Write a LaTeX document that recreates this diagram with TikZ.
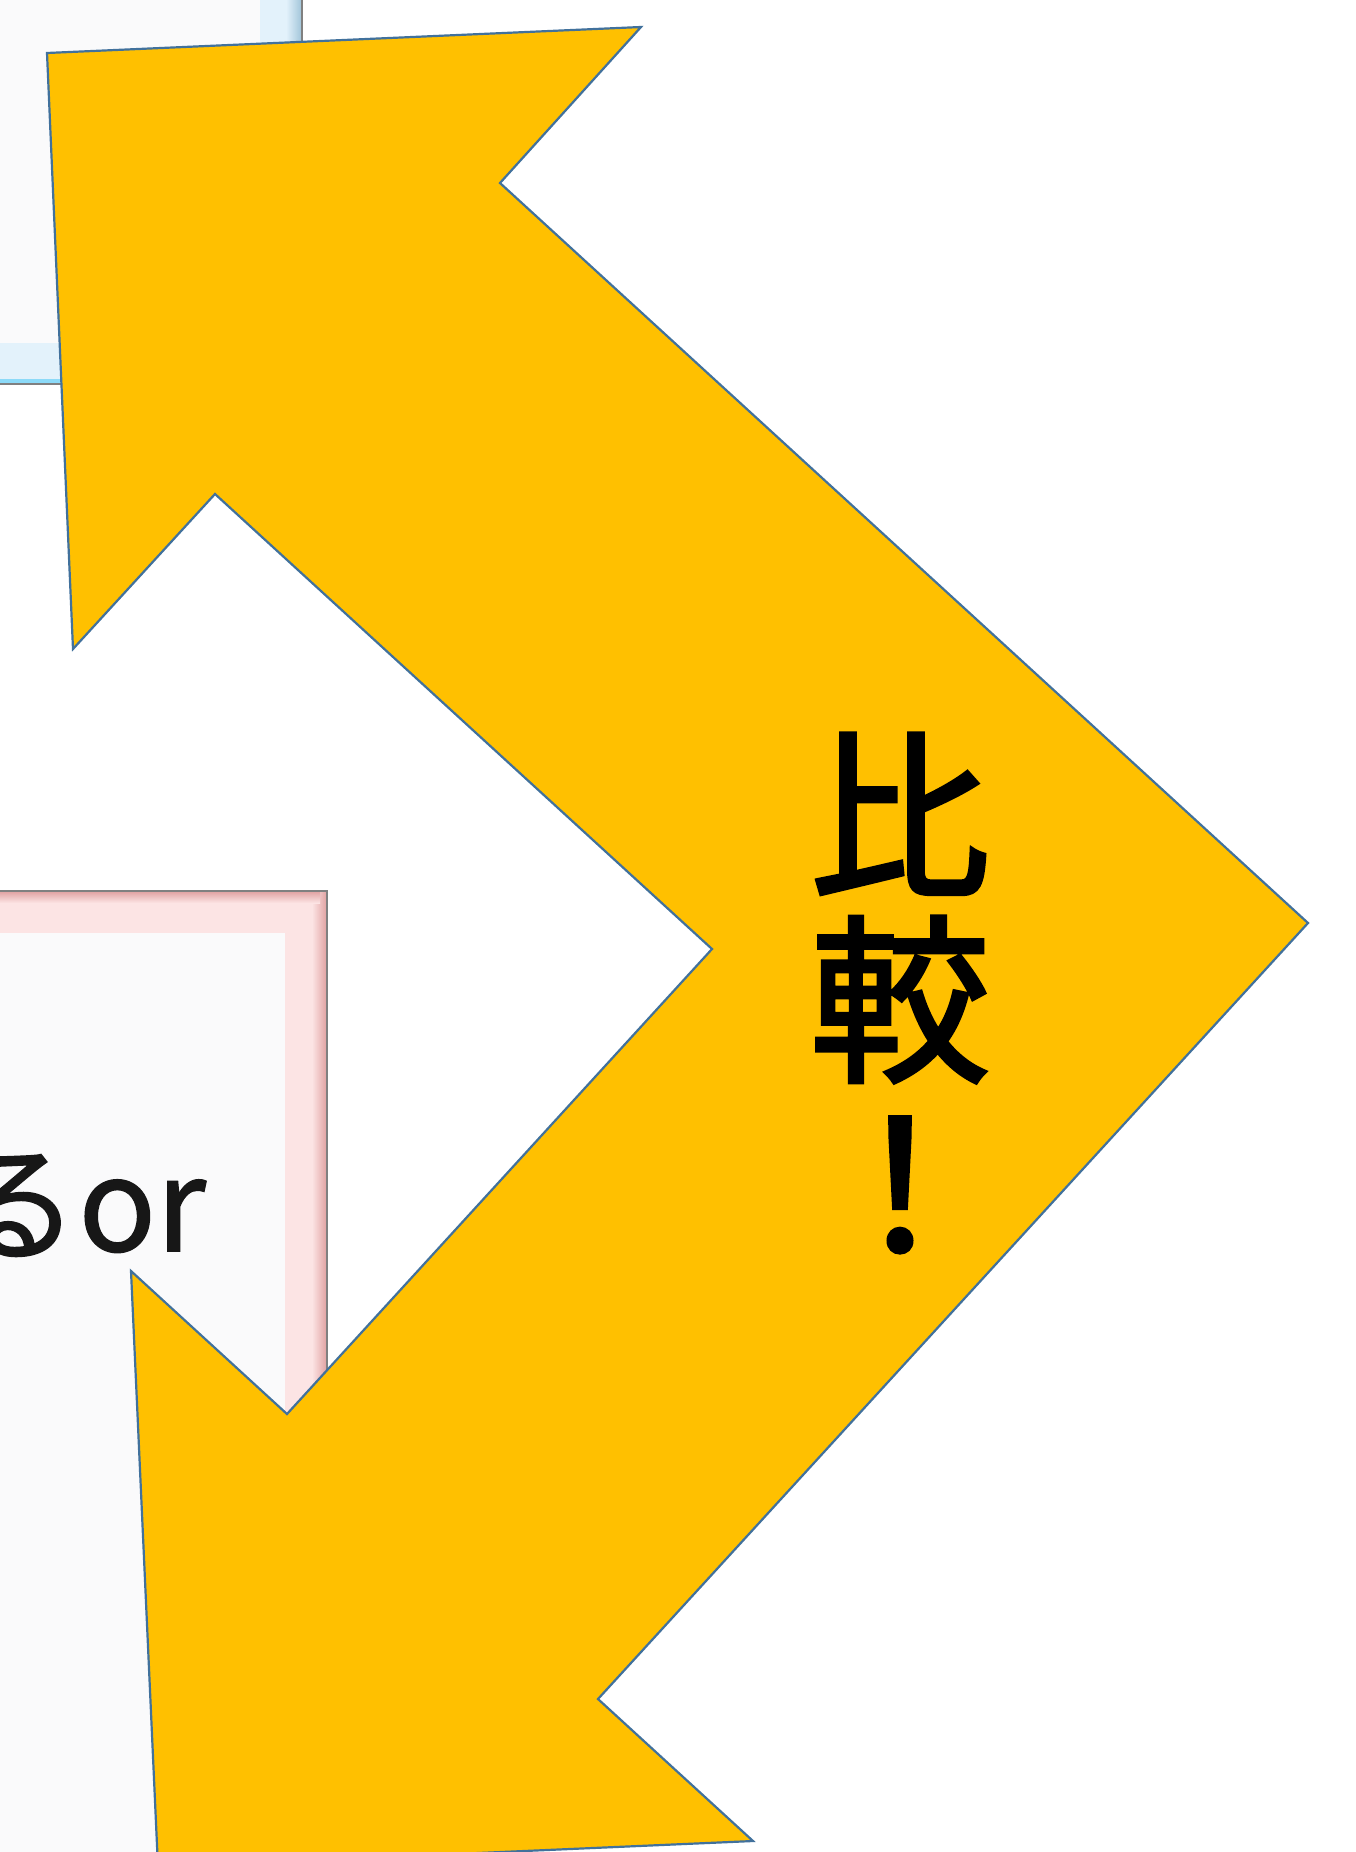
\documentclass[tikz,border=0pt]{standalone}
\usepackage{fontspec}
\newfontfamily\cjkfont[FakeBold=1.2]{Noto Sans CJK JP}
\newfontfamily\cjkheavy[FakeBold=2.2]{Noto Sans CJK JP}
\definecolor{arrowfill}{HTML}{FFC000}
\definecolor{arrowline}{HTML}{41719C}
\definecolor{bluefrm}{HTML}{E3F2FB}
\definecolor{blueedge}{HTML}{9FC3D8}
\definecolor{pinkfrm}{HTML}{FCE4E4}
\definecolor{pinkedge}{HTML}{E0A0A0}
\definecolor{boxin}{HTML}{FAFAFB}
\definecolor{txt}{HTML}{171717}
\tikzset{
  bigarrow/.style={fill=arrowfill, draw=arrowline, line width=2.2pt, line join=miter},
  frameline/.style={draw=black!50, line width=1.5pt},
}
\begin{document}
\begin{tikzpicture}[x=1pt,y=-1pt]
\useasboundingbox (0,0) rectangle (1355,1852);
\fill[white] (0,0) rectangle (1355,1852);
% blue box (top left)
\fill[bluefrm] (-10,-10) rectangle (302,384);
\shade[left color=bluefrm, right color=blueedge] (286,-10) rectangle (302,384);
\fill[cyan!45] (-10,379) rectangle (300,384);
\fill[boxin] (-10,-10) rectangle (260,343);
\draw[frameline] (302,-10) -- (302,384) -- (-10,384);
% pink box (bottom left)
\fill[pinkfrm] (-10,891) rectangle (327,1862);
\shade[left color=pinkfrm, right color=pinkedge] (312,891) rectangle (327,1862);
\shade[top color=pinkedge, bottom color=pinkfrm] (-10,891) rectangle (320,903);
\fill[boxin] (-10,933) rectangle (285,1862);
\draw[frameline] (-10,891) -- (327,891) -- (327,1862);
\node[anchor=base east, inner sep=0pt, text=txt, font=\cjkfont\fontsize{128}{128}\selectfont] (ortext) at (206,1251) {るor};
% bent double arrow
\coordinate (t1) at (47,53);
\coordinate (t2) at (641,27);
\coordinate (t3) at (500,183);
\coordinate (t4) at (1308,923);
\coordinate (t5) at (598,1699);
\coordinate (t6) at (753,1841);
\coordinate (t7) at (158,1867);
\coordinate (t8) at (131,1271);
\coordinate (t9) at (287,1414);
\coordinate (t10) at (712,949);
\coordinate (t11) at (215,494);
\coordinate (t12) at (73,649);
\draw[bigarrow] (t1) -- (t2) -- (t3) -- (t4) -- (t5) -- (t6) -- (t7) -- (t8) -- (t9) -- (t10) -- (t11) -- (t12) -- cycle;
\node[align=center, inner sep=0pt, text=black, font=\cjkheavy\fontsize{180}{184}\selectfont] (hikaku) at (900,993) {比\\較\\！};
\end{tikzpicture}
\end{document}
